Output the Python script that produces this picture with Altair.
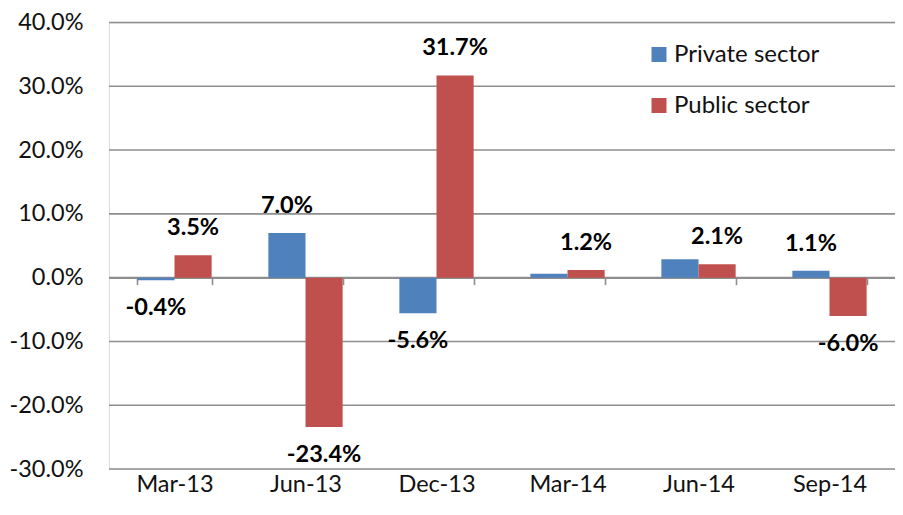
import altair as alt
import pandas as pd

categories = ["Mar-13", "Jun-13", "Dec-13", "Mar-14", "Jun-14", "Sep-14"]
series_names = ["Private sector", "Public sector"]
private_values = [-0.4, 7.0, -5.6, 0.6, 2.9, 1.1]
public_values = [3.5, -23.4, 31.7, 1.2, 2.1, -6.0]
private_labelled = [True, True, True, False, False, True]
public_labelled = [True, True, True, True, True, True]
colors = ["#4F81BD", "#C0504D"]
y_ticks = [-30, -20, -10, 0, 10, 20, 30, 40]

rows = []
for name, vals, shows in [(series_names[0], private_values, private_labelled),
                          (series_names[1], public_values, public_labelled)]:
    for c, v, s in zip(categories, vals, shows):
        rows.append({"cat": c, "series": name, "value": v, "show": s,
                     "label": f"{v:.1f}%"})
df = pd.DataFrame(rows)
grid_df = pd.DataFrame({"t": y_ticks})

FONT = "Lato"
FS = 23.5
GRID = "#8e8e8e"
W, H = 786, 446.5
zero_offset = -H * 30 / 70

x_scale = alt.Scale(domain=categories, paddingInner=0.433, paddingOuter=0.2165)
y_scale = alt.Scale(domain=[-30, 40], nice=False, zero=False)
xoff = alt.XOffset("series:N", sort=series_names,
                   scale=alt.Scale(paddingInner=0, paddingOuter=0))

grid = alt.Chart(grid_df).mark_rule(color=GRID, strokeWidth=1.6).encode(
    y=alt.Y("t:Q", scale=y_scale, title=None,
            axis=alt.Axis(values=y_ticks, domain=False, ticks=False, grid=False,
                          labelFont=FONT, labelFontSize=FS, labelColor="#111",
                          labelPadding=26,
                          labelExpr="replace(format(datum.value, '.1f'), '\u2212', '-') + '%'")),
)

bars = alt.Chart(df).mark_bar().encode(
    x=alt.X("cat:N", sort=categories, scale=x_scale, title=None,
            axis=alt.Axis(labelAngle=0, grid=False, offset=zero_offset,
                          domain=True, domainColor=GRID, domainWidth=1.6,
                          ticks=True, tickBand="extent", tickSize=7,
                          tickColor=GRID, tickWidth=1.6,
                          labelFont=FONT, labelFontSize=FS, labelColor="#111",
                          labelBaseline="alphabetic", labelPadding=207)),
    xOffset=xoff,
    y=alt.Y("value:Q", scale=y_scale),
    color=alt.Color("series:N", sort=series_names,
                    scale=alt.Scale(domain=series_names, range=colors),
                    legend=alt.Legend(title=None, orient="none", legendX=538, legendY=20,
                                      symbolType="square", symbolSize=225,
                                      symbolStrokeWidth=0, symbolOpacity=1,
                                      labelFont=FONT, labelFontSize=24, labelColor="#111",
                                      labelOffset=3, rowPadding=27)),
)

pos_text = alt.Chart(df).transform_filter(
    "datum.show && datum.value >= 0"
).mark_text(font=FONT, fontSize=FS, fontWeight="bold", color="#000",
            baseline="middle", dy=-27).encode(
    x=alt.X("cat:N", sort=categories, scale=x_scale),
    xOffset=xoff,
    y=alt.Y("value:Q", scale=y_scale),
    text="label:N",
)

neg_text = alt.Chart(df).transform_filter(
    "datum.show && datum.value < 0"
).mark_text(font=FONT, fontSize=FS, fontWeight="bold", color="#000",
            baseline="middle", dy=28).encode(
    x=alt.X("cat:N", sort=categories, scale=x_scale),
    xOffset=xoff,
    y=alt.Y("value:Q", scale=y_scale),
    text="label:N",
)

chart = alt.layer(grid, bars, pos_text, neg_text).properties(
    width=W, height=H,
    autosize=alt.AutoSizeParams(type="none"),
    padding={"left": 101, "top": 14.5, "right": 0, "bottom": 30},
).configure_view(strokeWidth=0, stroke="transparent").configure(background="white")

chart.save("out.html", embed_options={"renderer": "svg", "actions": False})
